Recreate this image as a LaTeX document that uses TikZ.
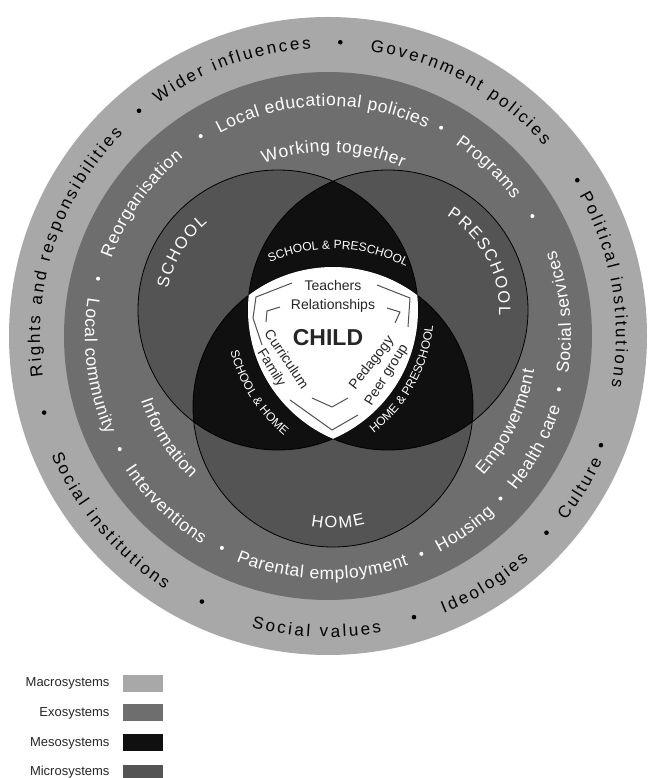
\documentclass[tikz,border=0pt]{standalone}
\usepackage{fontspec}
\setmainfont{Liberation Sans}
\usetikzlibrary{decorations.text}

\definecolor{macrogrey}{RGB}{168,168,168}
\definecolor{exogrey}{RGB}{110,110,110}
\definecolor{microgrey}{RGB}{84,84,84}
\definecolor{mesoblack}{RGB}{16,16,16}
\definecolor{childtext}{RGB}{38,38,38}

% text along an arc: #1 centre, #2 middle angle, #3 baseline radius, #4 format, #5 text
\newcommand{\cwlabel}[5]{%
  \path[shift={#1}, decorate, decoration={text along path, text align=center,
    text={|#4|#5}}] ({#2+70}:#3) arc[start angle={#2+70}, end angle={#2-70}, radius=#3];}
\newcommand{\ccwlabel}[5]{%
  \path[shift={#1}, decorate, decoration={text along path, text align=center,
    text={|#4|#5}}] ({#2-70}:#3) arc[start angle={#2-70}, end angle={#2+70}, radius=#3];}

% letter spacing: a kern in front of every character
\newcommand{\macrofmt}{\fontsize{17}{20}\selectfont\color{black}\kern2.6pt}
\newcommand{\exofmt}{\fontsize{17.5}{20}\selectfont\color{white}\kern0.6pt}
\newcommand{\mesofmt}{\fontsize{12}{14}\selectfont\color{white}}
\newcommand{\microfmt}{\fontsize{16.5}{18}\selectfont\color{white}\kern1.8pt}

\tikzset{
  childword/.style={text=childtext, font=\fontsize{14}{16}\selectfont, inner sep=1pt},
  bracket/.style={draw=childtext!80, line width=1pt, line join=round},
  keylabel/.style={anchor=east, font=\fontsize{13}{15}\selectfont, text=black!85},
  keybox/.style={minimum width=40, minimum height=17, inner sep=0pt, anchor=north west}
}

\begin{document}
\begin{tikzpicture}[x=1pt, y=1pt]
    \useasboundingbox (-328,336) rectangle (320,-442);

    % Macro and exo rings
    \fill[macrogrey] (0,0) circle (319);
    \fill[exogrey] (0,0) circle (264);

    % Micro circles
    \coordinate (sc) at (-50,26);
    \coordinate (pc) at (60,26);
    \coordinate (hc) at (5,-71);
    \fill[microgrey] (sc) circle (140) (pc) circle (140) (hc) circle (140);

    % Meso overlaps
    \begin{scope}
        \clip (sc) circle (140);
        \fill[mesoblack] (pc) circle (140) (hc) circle (140);
    \end{scope}
    \begin{scope}
        \clip (pc) circle (140);
        \fill[mesoblack] (hc) circle (140);
    \end{scope}
    \draw[line width=0.8] (sc) circle (140) (pc) circle (140) (hc) circle (140);

    % Child
    \begin{scope}
        \clip (sc) circle (140);
        \clip (pc) circle (140);
        \fill[white] (hc) circle (140);
    \end{scope}

    % Macrosystem labels
    \cwlabel{(0,0)}{110}{288}{\macrofmt}{Wider influences}
    \cwlabel{(0,0)}{61.8}{288}{\macrofmt}{Government policies}
    \cwlabel{(0,0)}{9.8}{288}{\macrofmt}{Political institutions}
    \ccwlabel{(0,0)}{-31.4}{301}{\macrofmt}{Culture}
    \ccwlabel{(0,0)}{-58}{301}{\macrofmt}{Ideologies}
    \ccwlabel{(0,0)}{-92.5}{301}{\macrofmt}{Social values}
    \ccwlabel{(0,0)}{-140}{301}{\macrofmt}{Social institutions}
    \cwlabel{(0,0)}{162}{288}{\macrofmt}{Rights and responsibilities}
    \foreach \a in {87.6,32,-21.8,-42,-73,-115.4,-164.9,130}
        \fill[black] (\a:294) circle (2.3);

    % Exosystem labels
    \cwlabel{(0,0)}{91.5}{230}{\exofmt}{Local educational policies}
    \cwlabel{(0,0)}{46.5}{230}{\exofmt}{Programs}
    \ccwlabel{(0,0)}{5.8}{243}{\exofmt}{Social services}
    \ccwlabel{(0,0)}{-28.3}{243}{\exofmt}{Health care}
    \ccwlabel{(0,0)}{-54.8}{243}{\exofmt}{Housing}
    \ccwlabel{(0,0)}{-91.5}{243}{\exofmt}{Parental employment}
    \ccwlabel{(0,0)}{-134}{243}{\exofmt}{Interventions}
    \ccwlabel{(0,0)}{-172.6}{243}{\exofmt}{Local community}
    \cwlabel{(0,0)}{144.7}{230}{\exofmt}{Reorganisation}
    \foreach \a in {61.5,122.5,166,-151.5,-116.6,-66.8,-43.3,-13,30.4}
        \fill[white] (\a:237) circle (2);

    % Themes between the circles
    \cwlabel{(0,0)}{88.4}{184}{\exofmt}{Working together}
    \ccwlabel{(0,0)}{-147.5}{198}{\exofmt}{Information}
    \ccwlabel{(0,0)}{-25.8}{209}{\exofmt}{Empowerment}

    % Microsystem labels
    \cwlabel{(sc)}{149.5}{112}{\microfmt}{SCHOOL}
    \cwlabel{(pc)}{28}{111}{\microfmt}{PRESCHOOL}
    \ccwlabel{(hc)}{-88}{121}{\microfmt}{HOME}

    % Mesosystem labels
    \cwlabel{(hc)}{88}{158}{\mesofmt}{SCHOOL {\&} PRESCHOOL}
    \ccwlabel{(pc)}{212.6}{163}{\mesofmt}{SCHOOL {\&} HOME}
    \ccwlabel{(sc)}{-29}{156}{\mesofmt}{HOME {\&} PRESCHOOL}

    % Child words
    \node[childword] (teachers) at (5,51) {Teachers};
    \node[childword] (relations) at (5,30) {Relationships};
    \node[childword, font=\bfseries\fontsize{23}{25}\selectfont] (child) at (0,-2) {CHILD};
    \node[childword, rotate=-56] (curriculum) at (-41,-23) {Curriculum};
    \node[childword, rotate=-58] (family) at (-57,-32) {Family};
    \node[childword, rotate=52] (pedagogy) at (44,-27) {Pedagogy};
    \node[childword, rotate=58] (peers) at (59,-39) {Peer group};

    % Brackets round the child words
    \draw[bracket] (-36,53) -- (-72,39) -- (-75,18) -- (-66,-9);
    \draw[bracket] (49,51) -- (82,38) -- (80,9);
    \draw[bracket] (-38,-64) -- (4,-94) -- (30,-79);
    \draw[bracket] (-48,29) -- (-61,25) -- (-62,14);
    \draw[bracket] (59,28) -- (72,24) -- (67,13);
    \draw[bracket] (-16,-62) -- (4,-71) -- (20,-62);

    % Key
    \node[keylabel] (macrolbl) at (-215,-347) {Macrosystems};
    \node[keylabel] (exolbl) at (-215,-377) {Exosystems};
    \node[keylabel] (mesolbl) at (-215,-407) {Mesosystems};
    \node[keylabel] (microlbl) at (-215,-436) {Microsystems};
    \node[keybox, fill=macrogrey] (macrokey) at (-205,-339) {};
    \node[keybox, fill=exogrey] (exokey) at (-205,-368) {};
    \node[keybox, fill=mesoblack] (mesokey) at (-205,-398) {};
    \node[keybox, fill=microgrey] (microkey) at (-205,-429) {};
\end{tikzpicture}
\end{document}
